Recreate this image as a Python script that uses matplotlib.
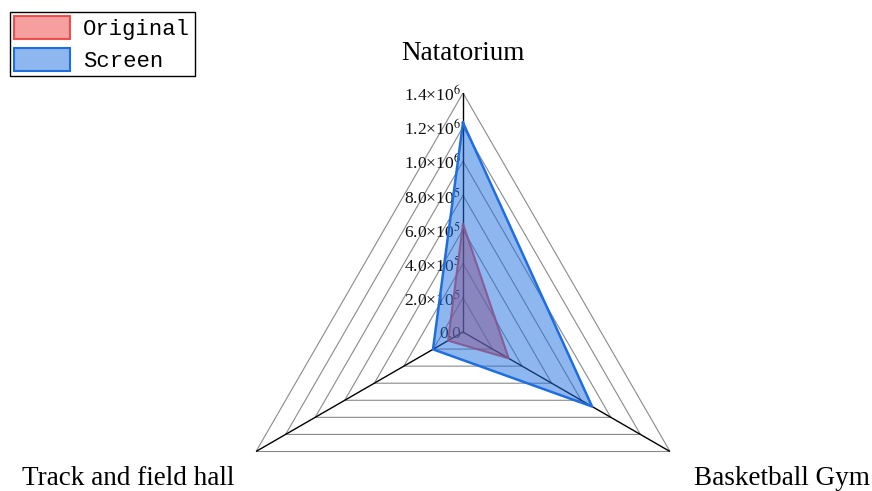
import numpy as np
import matplotlib
matplotlib.use("Agg")
import matplotlib.pyplot as plt
from matplotlib.patches import Patch

plt.rcParams['mathtext.fontset'] = 'stix'

categories = ["Natatorium", "Basketball Gym", "Track and field hall"]
original = [6.33e5, 3.09e5, 1.01e5]
screen = [1.226e6, 8.73e5, 2.03e5]
ticks = [0, 2e5, 4e5, 6e5, 8e5, 1.0e6, 1.2e6, 1.4e6]
tick_labels = ["0.0", r"2.0×10$^{5}$", r"4.0×10$^{5}$", r"6.0×10$^{5}$",
               r"8.0×10$^{5}$", r"1.0×10$^{6}$", r"1.2×10$^{6}$", r"1.4×10$^{6}$"]
series_names = ["Original", "Screen"]

W, H = 872, 491
fig = plt.figure(figsize=(W / 100, H / 100), dpi=100)

cx, cy, R = 463, 332, 239
ax = fig.add_axes([(cx - R) / W, (H - cy - R) / H, 2 * R / W, 2 * R / H],
                  projection='polar')
ax.set_theta_offset(np.pi / 2)
ax.set_theta_direction(-1)
ax.set_ylim(0, ticks[-1])
ax.grid(False)
ax.spines['polar'].set_visible(False)
ax.patch.set_visible(False)
ax.set_xticks([])
ax.set_yticks([])

n = len(categories)
theta = np.arange(n) * 2 * np.pi / n
theta_closed = np.append(theta, theta[0])

# triangular grid rings
for t in ticks[1:]:
    ax.plot(theta_closed, [t] * (n + 1), color='#8a8a8a', lw=0.8, zorder=1)
# radial axes
for th in theta:
    ax.plot([th, th], [0, ticks[-1]], color='black', lw=1.0, zorder=2)

# radial tick labels along the top axis
for t, lab in zip(ticks, tick_labels):
    ax.annotate(lab, xy=(0, t), xytext=(-2, -2), textcoords='offset pixels',
                ha='right', va='center', fontsize=12.6, family='Liberation Serif',
                color='#111111', zorder=2)

red_face = (0.93, 0.25, 0.25, 0.5)
red_edge = (0.93, 0.25, 0.25, 0.9)
blue_face = (0.12, 0.43, 0.88, 0.5)
blue_edge = (0.12, 0.43, 0.88, 1.0)

orig_c = np.append(original, original[0])
scr_c = np.append(screen, screen[0])
ax.fill(theta_closed, orig_c, color=red_face, zorder=3, lw=0)
ax.plot(theta_closed, orig_c, color=red_edge, lw=1.5, zorder=3)
ax.fill(theta_closed, scr_c, color=blue_face, zorder=4, lw=0)
ax.plot(theta_closed, scr_c, color=blue_edge, lw=1.8, zorder=4)

# category labels
offsets = [(0, 39), (112, -27), (-128, -27)]
for th, lab, off in zip(theta, categories, offsets):
    ax.annotate(lab, xy=(th, ticks[-1]), xytext=off, textcoords='offset pixels',
                ha='center', va='center', fontsize=19.5, family='Liberation Serif',
                annotation_clip=False)

handles = [Patch(facecolor=red_face, edgecolor=red_edge, lw=1.5),
           Patch(facecolor=blue_face, edgecolor=blue_edge, lw=1.5)]
leg = fig.legend(handles, series_names, loc='upper left',
                 bbox_to_anchor=(10 / W, 1 - 12 / H), bbox_transform=fig.transFigure,
                 borderaxespad=0, fancybox=False, edgecolor='black', framealpha=1,
                 prop={'family': 'Liberation Mono', 'size': 16},
                 handlelength=2.5, handleheight=1.2, handletextpad=0.6,
                 labelspacing=0.35, borderpad=0.2)
leg.get_frame().set_linewidth(1.0)

fig.savefig("out.png", dpi=100)
